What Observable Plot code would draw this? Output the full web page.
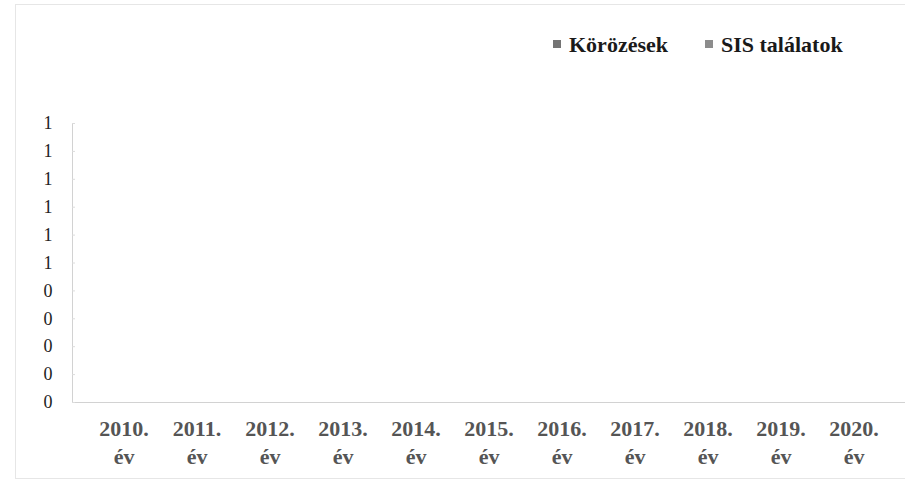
<!DOCTYPE html>
<html>
<head>
<meta charset="utf-8">
<script src="https://cdn.jsdelivr.net/npm/d3@7"></script>
<script src="https://cdn.jsdelivr.net/npm/@observablehq/plot@0.6"></script>
<style>
  html, body { margin: 0; padding: 0; background: #fff; }
  #wrap { position: relative; width: 905px; height: 482px; overflow: hidden; font-family: "Liberation Serif", "Times New Roman", serif; }
  #border { position: absolute; left: 15px; top: 4px; right: -2px; bottom: 3px; border: 1px solid #e6e6e6; pointer-events: none; }
  #legend { height: 70px; box-sizing: border-box; padding-top: 20px; padding-left: 553px; display: flex; align-items: center; }
  .item { display: flex; align-items: center; margin-right: 37px; }
  .sw { width: 8px; height: 8px; margin-right: 8px; margin-top: -2px; }
  .lab { font-size: 22px; font-weight: bold; color: #1a1a1a; line-height: 22px; }
  svg { display: block; }
</style>
</head>
<body>
<div id="wrap">
  <div id="border"></div>
  <div id="legend"></div>
  <div id="chart"></div>
</div>
<script>
const years = ["2010", "2011", "2012", "2013", "2014", "2015", "2016", "2017", "2018", "2019", "2020"];
const xTickLabels = ["2010.\név", "2011.\név", "2012.\név", "2013.\név", "2014.\név", "2015.\név", "2016.\név", "2017.\név", "2018.\név", "2019.\név", "2020.\név"];
const series = ["Körözések", "SIS találatok"];
const seriesColors = ["#747474", "#8c8c8c"];
const korozesek = [0, 0, 0, 0, 0, 0, 0, 0, 0, 0, 0];
const sisTalalatok = [0, 0, 0, 0, 0, 0, 0, 0, 0, 0, 0];
const yTicks = [0, 0.1, 0.2, 0.3, 0.4, 0.5, 0.6, 0.7, 0.8, 0.9, 1.0];
const yTickLabels = ["0", "0", "0", "0", "0", "1", "1", "1", "1", "1", "1"];

const data = [];
years.forEach((y, i) => {
  data.push({year: y, series: series[0], value: korozesek[i]});
  data.push({year: y, series: series[1], value: sisTalalatok[i]});
});

// legend
const legend = document.getElementById("legend");
series.forEach((s, i) => {
  const it = document.createElement("div");
  it.className = "item";
  const sw = document.createElement("div");
  sw.className = "sw";
  sw.style.background = seriesColors[i];
  const lab = document.createElement("span");
  lab.className = "lab";
  lab.textContent = s;
  it.appendChild(sw);
  it.appendChild(lab);
  legend.appendChild(it);
});

const axisColor = "#d2d2d2";
const chart = Plot.plot({
  width: 905,
  height: 412,
  marginLeft: 72,
  marginRight: 0,
  marginTop: 53,
  marginBottom: 80,
  style: {fontFamily: "'Liberation Serif', 'Times New Roman', serif", background: "transparent", overflow: "visible"},
  x: {domain: years, padding: 0.3, axis: null},
  y: {domain: [0, 1], axis: null},
  color: {domain: series, range: seriesColors},
  marks: [
    Plot.barY(data, {x: "year", y: "value", fill: "series"}),
    Plot.ruleY([0], {stroke: axisColor}),
    Plot.frame({anchor: "left", stroke: axisColor}),
    Plot.axisY({ticks: yTicks, tickSize: 3, dx: 3, stroke: "#dcdcdc", tickFormat: () => "", label: null}),
    Plot.axisY({ticks: yTicks, tickSize: 0, tickPadding: 20, tickFormat: (d, i) => yTickLabels[i], fontSize: 18, color: "#222", label: null}),
    Plot.axisX({tickSize: 0, tickPadding: 14, tickFormat: (d, i) => xTickLabels[i], fontSize: 22, fontWeight: "bold", color: "#555", lineHeight: 1.25, label: null})
  ]
});
document.getElementById("chart").appendChild(chart);
</script>
</body>
</html>
